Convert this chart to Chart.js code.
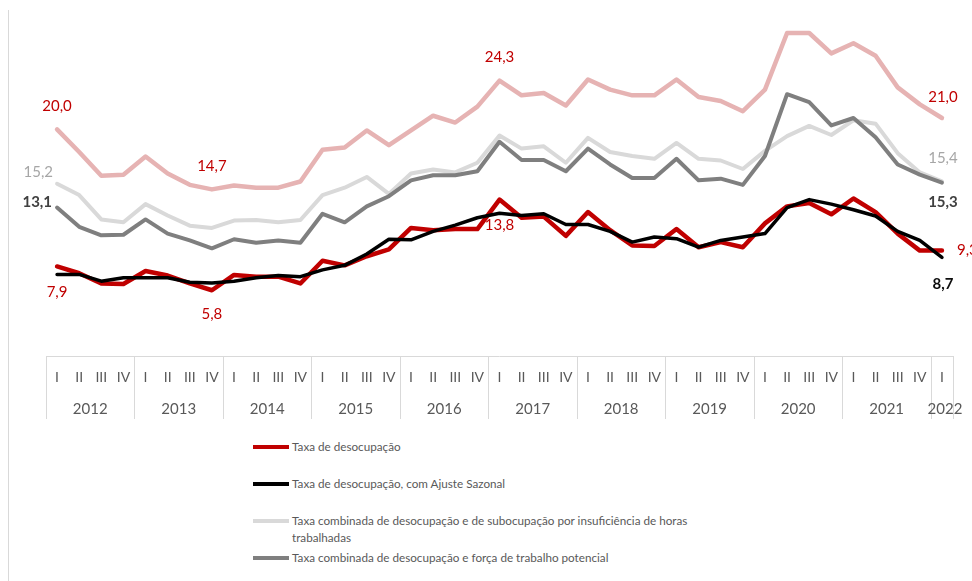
<!DOCTYPE html>
<html>
<head>
<meta charset="utf-8">
<script src="https://cdn.jsdelivr.net/npm/chart.js@4.4.0/dist/chart.umd.min.js"></script>
<style>
    body { margin: 0; background: #fff; font-family: Lato, sans-serif; }
    #wrap { position: relative; width: 972px; height: 581px; overflow: hidden; }
    #frame { position: absolute; left: 8px; top: 10px; bottom: 0; border-left: 1px solid #d9d9d9; }
    #chart { position: absolute; left: 0; top: 0; }
    .item { position: absolute; left: 253px; display: flex; align-items: flex-start; color: #595959; font-size: 11.7px; line-height: 17px; }
    .item .swatch { width: 36px; height: 4px; margin-top: 7px; margin-right: 3px; flex: none; }
</style>
</head>
<body>
<div id="wrap">
    <div id="frame"></div>
    <canvas id="chart" width="972" height="430"></canvas>
    <div id="legend"></div>
</div>
<script>
// Trimestres e anos
const quarterNames = ['I', 'II', 'III', 'IV'];
const years = ['2012', '2013', '2014', '2015', '2016', '2017', '2018', '2019', '2020', '2021', '2022'];

// Taxa de desocupação
const desocupacao = [
    7.9, 7.3, 6.4, 6.35, 7.5, 7.1, 6.4, 5.8, 7.15, 7.0, 7.0, 6.4,
    8.4, 8.0, 8.8, 9.4, 11.3, 11.1, 11.2, 11.2, 13.8, 12.2, 12.3, 10.6,
    12.7, 11.1, 9.75, 9.7, 11.2, 9.6, 10.05, 9.6, 11.7, 13.2, 13.5, 12.5,
    13.9, 12.7, 10.8, 9.3, 9.3
];
// Taxa de desocupação, com ajuste sazonal
const desocupacaoAjustada = [
    7.2, 7.2, 6.6, 6.9, 6.9, 6.9, 6.5, 6.45, 6.6, 6.9, 7.1, 7.0,
    7.6, 8.0, 9.0, 10.3, 10.25, 11.0, 11.55, 12.2, 12.6, 12.4, 12.55, 11.6,
    11.6, 11.0, 10.05, 10.5, 10.35, 9.6, 10.2, 10.5, 10.8, 13.1, 13.8, 13.4,
    12.9, 12.35, 11.0, 10.2, 8.7
];
// Desocupação + subocupação por insuficiência de horas
const subocupacao = [
    15.2, 14.2, 12.05, 11.8, 13.4, 12.4, 11.5, 11.3, 11.95, 12.0, 11.8, 12.0,
    14.2, 14.85, 15.8, 14.3, 16.1, 16.45, 16.2, 17.05, 19.45, 18.3, 18.5, 17.05,
    19.25, 18.0, 17.65, 17.4, 18.8, 17.4, 17.25, 16.5, 18.1, 19.4, 20.3, 19.5,
    20.8, 20.5, 17.9, 16.2, 15.4
];
// Desocupação + força de trabalho potencial
const forcaPotencial = [
    13.1, 11.4, 10.65, 10.7, 12.05, 10.8, 10.2, 9.5, 10.3, 10.0, 10.2, 10.0,
    12.55, 11.8, 13.2, 14.1, 15.5, 15.95, 15.95, 16.3, 18.9, 17.3, 17.3, 16.3,
    18.3, 16.9, 15.7, 15.7, 17.4, 15.5, 15.65, 15.1, 17.65, 23.1, 22.4, 20.35,
    21.0, 19.3, 16.9, 16.0, 15.3
];
// Taxa composta de subutilização (sem legenda)
const subutilizacao = [
    20.0, 18.0, 15.9, 16.0, 17.6, 16.1, 15.1, 14.7, 15.05, 14.85, 14.85, 15.4,
    18.2, 18.4, 19.9, 18.6, 19.9, 21.2, 20.6, 22.0, 24.3, 23.0, 23.2, 22.1,
    24.4, 23.5, 23.0, 23.0, 24.4, 22.85, 22.5, 21.6, 23.5, 28.5, 28.5, 26.7,
    27.6, 26.5, 23.7, 22.2, 21.0
];

const labels = [];
years.forEach(() => {
    quarterNames.forEach(q => {
        if (labels.length < desocupacao.length) labels.push(q);
    });
});

const fmt = v => v.toFixed(1).replace('.', ',');

// rótulos de valor: série, índice, deslocamento
const pointLabels = [
    { ds: 4, index: 0, dx: 0, dy: -23, align: 'center', color: '#c00000' },
    { ds: 4, index: 7, dx: 0, dy: -23, align: 'center', color: '#c00000' },
    { ds: 4, index: 20, dx: 0, dy: -23, align: 'center', color: '#c00000' },
    { ds: 4, index: 40, dx: 1, dy: -21, align: 'center', color: '#c00000' },
    { ds: 0, index: 0, dx: 0, dy: 26, align: 'center', color: '#c00000' },
    { ds: 0, index: 7, dx: 0, dy: 24, align: 'center', color: '#c00000' },
    { ds: 0, index: 20, dx: 0, dy: 26, align: 'center', color: '#c00000' },
    { ds: 0, index: 40, dx: 15, dy: 0, align: 'left', color: '#c00000' },
    { ds: 2, index: 0, dx: -4, dy: -12, align: 'right', color: '#a6a6a6' },
    { ds: 2, index: 40, dx: 1, dy: -23, align: 'center', color: '#a6a6a6' },
    { ds: 3, index: 0, dx: -5, dy: -5, align: 'right', color: '#404040', bold: true },
    { ds: 3, index: 40, dx: 1, dy: 20, align: 'center', color: '#404040', bold: true },
    { ds: 1, index: 40, dx: 1, dy: 27, align: 'center', color: '#0d0d0d', bold: true }
];

const valueLabels = {
    id: 'valueLabels',
    afterDatasetsDraw(chart) {
        const ctx = chart.ctx;
        ctx.save();
        ctx.textBaseline = 'middle';
        pointLabels.forEach(l => {
            const pt = chart.getDatasetMeta(l.ds).data[l.index];
            const v = chart.data.datasets[l.ds].data[l.index];
            ctx.font = (l.bold ? 'bold ' : '') + '15px Lato';
            ctx.fillStyle = l.color;
            ctx.textAlign = l.align;
            ctx.fillText(fmt(v), pt.x + l.dx, pt.y + l.dy);
        });
        ctx.restore();
    }
};

// segunda linha do eixo x: anos e divisórias
const yearAxis = {
    id: 'yearAxis',
    afterDraw(chart) {
        const { ctx, chartArea } = chart;
        const x = chart.scales.x;
        const top = chartArea.bottom;
        const bottom = top + 63;
        const step = x.getPixelForValue(1) - x.getPixelForValue(0);
        ctx.save();
        ctx.strokeStyle = '#d9d9d9';
        ctx.lineWidth = 1;
        ctx.beginPath();
        ctx.moveTo(x.left, top + 0.5);
        ctx.lineTo(x.right, top + 0.5);
        ctx.stroke();
        ctx.font = '15px Lato';
        ctx.fillStyle = '#595959';
        ctx.textAlign = 'center';
        ctx.textBaseline = 'middle';
        years.forEach((yr, k) => {
            const first = k * 4;
            const last = Math.min(first + 3, labels.length - 1);
            const x0 = Math.round(x.getPixelForValue(first) - step / 2) + 0.5;
            ctx.beginPath();
            ctx.moveTo(x0, top);
            ctx.lineTo(x0, bottom);
            ctx.stroke();
            const cx = (x.getPixelForValue(first) + x.getPixelForValue(last)) / 2;
            ctx.fillText(yr, last === first ? cx + 3 : cx, top + 53);
        });
        const xe = Math.round(x.right) + 0.5;
        ctx.beginPath();
        ctx.moveTo(xe, top);
        ctx.lineTo(xe, bottom);
        ctx.stroke();
        ctx.restore();
    }
};

const datasets = [
    { label: 'Taxa de desocupação', data: desocupacao, borderColor: '#c00000', borderWidth: 4.5, order: 1 },
    { label: 'Taxa de desocupação, com Ajuste Sazonal', data: desocupacaoAjustada, borderColor: '#000000', borderWidth: 3.5, order: 0 },
    { label: ['Taxa combinada de desocupação e de subocupação por insuficiência de horas', 'trabalhadas'], data: subocupacao, borderColor: '#d9d9d9', borderWidth: 4, order: 3 },
    { label: 'Taxa combinada de desocupação e força de trabalho potencial', data: forcaPotencial, borderColor: '#7f7f7f', borderWidth: 4, order: 2 },
    { label: 'Taxa composta de subutilização', data: subutilizacao, borderColor: '#e6b3b3', borderWidth: 4.5, order: 4, hideInLegend: true }
];

const chart = new Chart(document.getElementById('chart').getContext('2d'), {
    type: 'line',
    data: {
        labels: labels,
        datasets: datasets.map(d => ({
            ...d,
            pointRadius: 0,
            tension: 0,
            fill: false,
            borderJoinStyle: 'round',
            borderCapStyle: 'round'
        }))
    },
    options: {
        responsive: false,
        animation: false,
        layout: { padding: { left: 46, right: 19, top: 16, bottom: 10 } },
        plugins: {
            legend: { display: false },
            tooltip: { enabled: false }
        },
        scales: {
            x: {
                offset: true,
                grid: { display: false, drawTicks: false },
                border: { display: false },
                ticks: {
                    autoSkip: false,
                    maxRotation: 0,
                    padding: 13,
                    color: '#595959',
                    font: { family: 'Lato', size: 14 }
                },
                afterFit: (scale) => { scale.height = 64; }
            },
            y: {
                display: false,
                min: 0,
                max: 30
            }
        }
    },
    plugins: [valueLabels, yearAxis]
});

// legenda em HTML
const legendTops = [438, 475, 512, 549];
const legendEl = document.getElementById('legend');
datasets.filter(d => !d.hideInLegend).forEach((d, i) => {
    const item = document.createElement('div');
    item.className = 'item';
    item.style.top = legendTops[i] + 'px';
    const sw = document.createElement('span');
    sw.className = 'swatch';
    sw.style.background = d.borderColor;
    const txt = document.createElement('span');
    txt.innerHTML = Array.isArray(d.label) ? d.label.join('<br>') : d.label;
    item.appendChild(sw);
    item.appendChild(txt);
    legendEl.appendChild(item);
});
</script>
</body>
</html>
